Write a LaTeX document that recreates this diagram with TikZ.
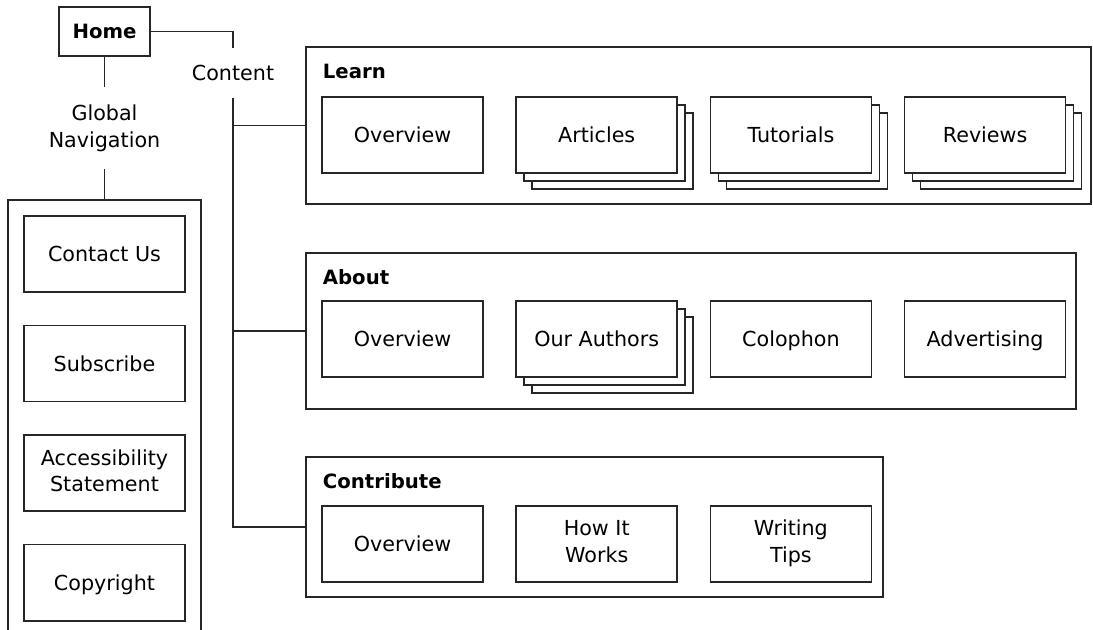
\documentclass[tikz,border=0pt]{standalone}
\usepackage{fontspec}
\setmainfont{DejaVu Sans}
\usetikzlibrary{positioning,shadows}
\newcommand\boxstrut{\vrule width0pt height14.3pt depth3.6pt}

\begin{document}
\begin{tikzpicture}[x=0.025cm,y=-0.025cm,line width=1.1pt,draw=black!85,
		every node/.style={font=\fontsize{14.7}{19}\selectfont},
		page/.style={draw,fill=white,minimum width=4.025cm,minimum height=1.9cm,align=center,inner sep=0pt,
			execute at begin node=\boxstrut,execute at end node=\boxstrut},
		pile/.style={page,
			copy shadow={shadow xshift=.4cm,shadow yshift=-.4cm,draw,fill=white},
			copy shadow={shadow xshift=.2cm,shadow yshift=-.2cm,draw,fill=white}},
		section/.style={draw,inner sep=0pt},
		title/.style={font=\fontsize{14}{17}\selectfont\bfseries,anchor=west,inner sep=0pt},
		label/.style={align=center,inner sep=0pt},
		node distance=0.79cm]
		\useasboundingbox (0,0) rectangle (1093,630);
		%\draw [help lines] (0,0) grid (1093,630);
		% Home
		\node (home) [draw,inner sep=0pt,minimum width=2.275cm,minimum height=1.225cm,font=\fontsize{14}{17}\selectfont\bfseries] at (104.5,31.5) {Home};
		\node (global) [label,minimum height=2cm] at (104.5,128) {Global\\Navigation};
		\node (content) [label,minimum height=1.2cm] at (233,73) {Content};
		\draw (home.south) -- (global.north);
		\draw (home.east) -| (content.north);
		% Global navigation
		\coordinate (navtop) at (104.5,200);
		\draw (8,630) -- (8,200) -- (201,200) -- (201,630);
		\draw (global.south) -- (navtop);
		\node (contact) [page] at (104.5,254) {Contact Us};
		\node (subscribe) [page,below=0.8cm of contact] {Subscribe};
		\node (access) [page,below=0.8cm of subscribe] {Accessibility\\Statement};
		\node (copyright) [page,below=0.8cm of access] {Copyright};
		% Sections
		\node (learn) [section,minimum width=19.625cm,minimum height=3.925cm] at (698.5,125.5) {};
		\node (about) [section,minimum width=19.25cm,minimum height=3.9cm] at (691,331) {};
		\node (contribute) [section,minimum width=14.425cm,minimum height=3.5cm] at (594.5,527) {};
		\node (learntitle) [title] at ([shift={(17,25)}]learn.north west) {Learn};
		\node (abouttitle) [title] at ([shift={(17,25)}]about.north west) {About};
		\node (contribtitle) [title] at ([shift={(17,25)}]contribute.north west) {Contribute};
		% Learn
		\node (learnov) [page] at (402.5,135) {Overview};
		\node (articles) [pile,right=of learnov] {Articles};
		\node (tutorials) [pile,right=of articles] {Tutorials};
		\node (reviews) [pile,right=of tutorials] {Reviews};
		% About
		\node (aboutov) [page] at (402.5,339) {Overview};
		\node (authors) [pile,right=of aboutov] {Our Authors};
		\node (colophon) [page,right=of authors] {Colophon};
		\node (advert) [page,right=of colophon] {Advertising};
		% Contribute
		\node (contribov) [page] at (402.5,544) {Overview};
		\node (howitworks) [page,right=of contribov] {How It\\Works};
		\node (tips) [page,right=of howitworks] {Writing\\Tips};
		% Content tree
		\draw (content.south) |- (contribute.west);
		\draw (content.south |- learn.west) -- (learn.west);
		\draw (content.south |- about.west) -- (about.west);
	\end{tikzpicture}
\end{document}
